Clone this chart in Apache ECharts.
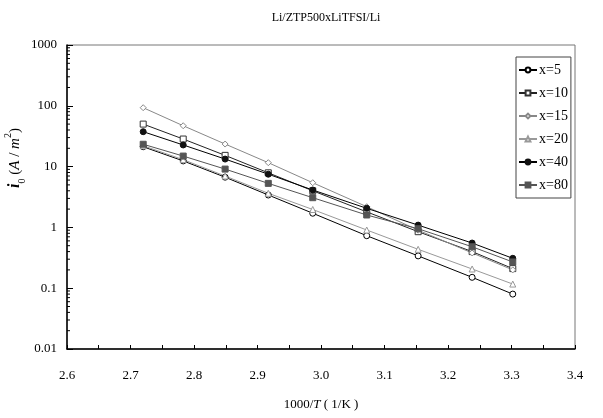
<!DOCTYPE html>
<html>
<head>
<meta charset="utf-8">
<script src="https://cdn.jsdelivr.net/npm/echarts@6/dist/echarts.min.js"></script>
<style>
html,body{margin:0;padding:0;background:#fff;}
#chart{width:603px;height:418px;}
</style>
</head>
<body>
<div id="chart"></div>
<script>
// x positions (1000/T, 1/K)
var xVals = [2.720, 2.783, 2.849, 2.917, 2.987, 3.072, 3.153, 3.238, 3.302];
// exchange current density i0 (A/m^2)
var s5  = [21.2, 12.4, 6.7, 3.41, 1.71, 0.73, 0.34, 0.151, 0.080];
var s10 = [50, 28.4, 15.3, 7.9, 4.0, 1.8, 0.85, 0.40, 0.21];
var s15 = [93, 47, 23.5, 11.6, 5.43, 2.19, 0.90, 0.38, 0.20];
var s20 = [22, 13.0, 7.0, 3.64, 1.97, 0.906, 0.436, 0.207, 0.117];
var s40 = [37.5, 22.7, 13.3, 7.5, 4.12, 2.06, 1.09, 0.553, 0.31];
var s80 = [23.3, 14.9, 9.1, 5.3, 3.08, 1.6, 0.95, 0.48, 0.27];
var seriesNames = ['x=5', 'x=10', 'x=15', 'x=20', 'x=40', 'x=80'];
var yTickLabels = ['0.01', '0.1', '1', '10', '100', '1000'];

var FONT = "'Liberation Serif', 'Times New Roman', serif";

function pairs(ys) {
  return xVals.map(function (x, i) { return [x, ys[i]]; });
}
var minorVals = [];
for (var e = -2; e < 3; e++) {
  for (var k = 2; k <= 9; k++) minorVals.push(k * Math.pow(10, e));
}

function mk(name, data, lineColor, symbol, fill, border, size) {
  return {
    name: name, type: 'line', data: pairs(data),
    symbol: symbol, symbolSize: size,
    showSymbol: true,
    lineStyle: { color: lineColor, width: 1 },
    itemStyle: { color: fill, borderColor: border, borderWidth: 1 },
    emphasis: { disabled: true },
    z: 3
  };
}

var yTitle = {
  type: 'text',
  x: 15, y: 158,
  rotation: Math.PI / 2,
  style: {
    text: '{b|i}{sub|0}{n| (}{it|A}{n| / }{it|m}{sup|2}{n|)}',
    align: 'center', verticalAlign: 'middle',
    rich: {
      b: { fontFamily: FONT, fontSize: 16, fontStyle: 'italic', fontWeight: 'bold', fill: '#000', lineHeight: 24 },
      sub: { fontFamily: FONT, fontSize: 10, fill: '#000', verticalAlign: 'bottom', lineHeight: 24 },
      n: { fontFamily: FONT, fontSize: 15, fill: '#000', lineHeight: 24 },
      it: { fontFamily: FONT, fontSize: 15, fontStyle: 'italic', fill: '#000', lineHeight: 24 },
      sup: { fontFamily: FONT, fontSize: 10, fill: '#000', verticalAlign: 'top', lineHeight: 24 }
    }
  }
};

var chart = echarts.init(document.getElementById('chart'), null, { renderer: 'canvas' });
chart.setOption({
  animation: false,
  backgroundColor: '#fff',
  title: {
    text: 'Li/ZTP500xLiTFSI/Li',
    left: 321, top: 7, textAlign: 'center',
    textStyle: { fontFamily: FONT, fontSize: 12, fontWeight: 'normal', color: '#000' }
  },
  grid: {
    left: 67, right: 28, top: 45, bottom: 69,
    show: true, borderColor: '#777', borderWidth: 1, backgroundColor: 'transparent'
  },
  legend: {
    orient: 'vertical', left: 516, top: 57,
    itemWidth: 18, itemHeight: 6, itemGap: 9,
    padding: [6, 3, 6, 2],
    borderColor: '#444', borderWidth: 1,
    backgroundColor: '#fff',
    textStyle: { fontFamily: FONT, fontSize: 14, color: '#000', padding: [0, 0, 0, -3] },
    data: seriesNames
  },
  xAxis: {
    type: 'value', min: 2.6, max: 3.4, interval: 0.05,
    name: '{n|1000/}{it|T}{n| ( 1/K )}',
    nameLocation: 'middle', nameGap: 49,
    nameTextStyle: {
      rich: {
        n: { fontFamily: FONT, fontSize: 13, color: '#000' },
        it: { fontFamily: FONT, fontSize: 13, fontStyle: 'italic', color: '#000' }
      }
    },
    axisLine: { lineStyle: { color: '#000', width: 1.5 } },
    axisTick: { inside: true, length: 4, lineStyle: { color: '#000' } },
    splitLine: { show: false },
    axisLabel: {
      margin: 20, fontFamily: FONT, fontSize: 13, color: '#000',
      formatter: function (v) {
        var r = Math.round(v * 100);
        return (r % 10 === 0) ? v.toFixed(1) : '';
      }
    }
  },
  yAxis: {
    type: 'log', min: 0.01, max: 1000, logBase: 10,
    axisLine: { show: true, lineStyle: { color: '#000', width: 1.5 } },
    axisTick: { show: true, inside: true, length: 6, lineStyle: { color: '#000' } },
    splitLine: { show: false },
    axisLabel: {
      margin: 10, fontFamily: FONT, fontSize: 13, color: '#000',
      formatter: function (v) {
        var p = Math.round(Math.log10(v));
        return yTickLabels[p + 2];
      }
    }
  },
  graphic: [yTitle],
  series: [
    mk('x=5', s5, '#000', 'circle', '#fff', '#000', 6),
    mk('x=10', s10, '#222', 'rect', '#fff', '#333', 6),
    mk('x=15', s15, '#888', 'diamond', '#fff', '#888', 6),
    mk('x=20', s20, '#999', 'triangle', '#fff', '#999', 6),
    mk('x=40', s40, '#000', 'circle', '#111', '#111', 6),
    mk('x=80', s80, '#555', 'rect', '#555', '#555', 6)
  ]
});

// minor log ticks on the y axis, positioned through the chart's own scale
var x0 = chart.convertToPixel({ xAxisIndex: 0 }, 2.6);
var minorEls = minorVals.map(function (v) {
  var py = chart.convertToPixel({ yAxisIndex: 0 }, v);
  return {
    type: 'line',
    shape: { x1: x0, y1: py, x2: x0 + 3, y2: py },
    style: { stroke: '#000', lineWidth: 1 },
    silent: true
  };
});
chart.setOption({ graphic: [yTitle].concat(minorEls) }, { replaceMerge: ['graphic'] });
</script>
</body>
</html>
